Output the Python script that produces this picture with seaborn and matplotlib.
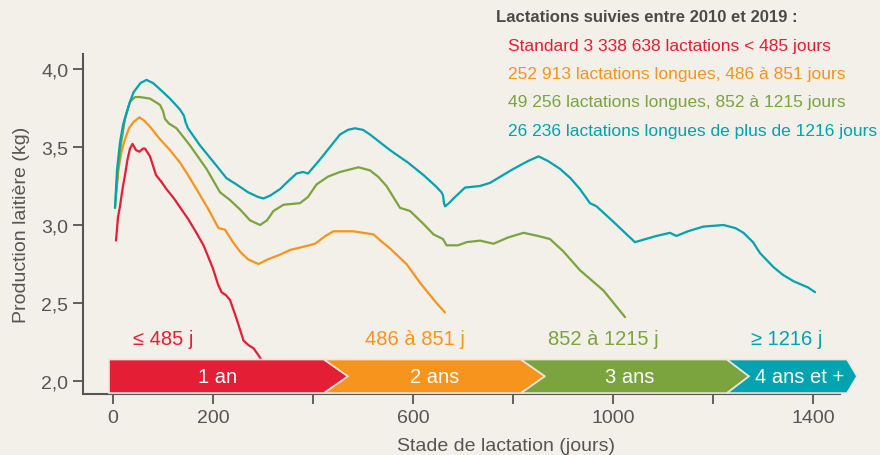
import numpy as np
import pandas as pd
import seaborn as sns
import matplotlib.pyplot as plt
from matplotlib.patches import Polygon

# courbes (jour, kg)
red_days = [6, 10, 14, 19, 24, 29, 34, 39, 46, 53, 60, 64, 70, 74, 80, 86, 96, 107, 122, 137,
            150, 165, 181, 190, 200, 210, 217, 226, 234, 247, 261, 271, 281, 290, 300]
red_vals = [2.90, 3.05, 3.12, 3.23, 3.32, 3.42, 3.49, 3.52, 3.48, 3.47, 3.49, 3.49, 3.46, 3.44,
            3.38, 3.32, 3.28, 3.23, 3.17, 3.10, 3.04, 2.96, 2.87, 2.80, 2.72, 2.62, 2.57, 2.55,
            2.52, 2.40, 2.26, 2.23, 2.21, 2.17, 2.12]

orange_days = [6, 11, 17, 24, 32, 41, 53, 62, 74, 94, 114, 134, 150, 167, 191, 211, 224, 240,
               254, 270, 291, 310, 334, 354, 380, 404, 425, 441, 480, 521, 535, 554, 587, 614,
               647, 664]
orange_vals = [3.20, 3.36, 3.47, 3.55, 3.62, 3.66, 3.69, 3.67, 3.63, 3.55, 3.48, 3.40, 3.32,
               3.23, 3.10, 2.98, 2.97, 2.89, 2.83, 2.78, 2.75, 2.78, 2.81, 2.84, 2.86, 2.88,
               2.93, 2.96, 2.96, 2.94, 2.90, 2.85, 2.75, 2.63, 2.50, 2.44]

green_days = [4, 10, 16, 24, 34, 44, 54, 74, 94, 100, 104, 112, 127, 154, 187, 214, 234, 254,
              274, 294, 308, 321, 341, 374, 390, 407, 430, 454, 491, 514, 530, 547, 574, 594,
              620, 641, 660, 667, 690, 707, 734, 761, 790, 821, 850, 874, 901, 934, 981, 1024]
green_vals = [3.11, 3.35, 3.52, 3.68, 3.79, 3.82, 3.82, 3.81, 3.77, 3.73, 3.68, 3.65, 3.62,
              3.51, 3.36, 3.21, 3.16, 3.10, 3.03, 3.00, 3.03, 3.09, 3.13, 3.14, 3.18, 3.26,
              3.31, 3.34, 3.37, 3.35, 3.31, 3.25, 3.11, 3.09, 3.01, 2.94, 2.91, 2.87, 2.87,
              2.89, 2.90, 2.88, 2.92, 2.95, 2.93, 2.91, 2.83, 2.71, 2.58, 2.41]

teal_days = [4, 8, 14, 20, 27, 34, 41, 55, 67, 80, 94, 114, 134, 142, 145, 150, 174, 207, 227,
             247, 270, 290, 301, 315, 334, 350, 367, 380, 390, 414, 434, 454, 470, 484, 500,
             514, 534, 554, 590, 621, 645, 657, 660, 662, 664, 672, 681, 704, 734, 754, 780,
             801, 830, 851, 870, 894, 915, 934, 954, 967, 1001, 1024, 1044, 1065, 1087, 1114,
             1120, 1127, 1150, 1181, 1221, 1245, 1261, 1280, 1294, 1321, 1340, 1361, 1390, 1404]
teal_vals = [3.11, 3.35, 3.53, 3.64, 3.72, 3.79, 3.85, 3.91, 3.93, 3.91, 3.87, 3.81, 3.74, 3.70,
             3.66, 3.62, 3.51, 3.38, 3.30, 3.26, 3.21, 3.18, 3.17, 3.19, 3.23, 3.28, 3.33,
             3.34, 3.33, 3.42, 3.50, 3.58, 3.61, 3.62, 3.61, 3.58, 3.53, 3.48, 3.40, 3.32,
             3.25, 3.21, 3.19, 3.14, 3.12, 3.14, 3.17, 3.24, 3.25, 3.27, 3.32, 3.36, 3.41,
             3.44, 3.41, 3.36, 3.30, 3.23, 3.14, 3.12, 3.02, 2.95, 2.89, 2.91, 2.93, 2.95,
             2.94, 2.93, 2.96, 2.99, 3.00, 2.98, 2.95, 2.89, 2.82, 2.73, 2.68, 2.64, 2.60, 2.57]

groups = ["standard", "486-851", "852-1215", "1216+"]
colors = ["#e41e34", "#f7941d", "#7ba43f", "#00a3af"]
legend_lines = ["Standard 3 338 638 lactations < 485 jours",
                "252 913 lactations longues, 486 à 851 jours",
                "49 256 lactations longues, 852 à 1215 jours",
                "26 236 lactations longues de plus de 1216 jours"]
range_labels = ["≤ 485 j", "486 à 851 j", "852 à 1215 j", "≥ 1216 j"]
range_label_x = [100, 604, 980, 1348]
phase_labels = ["1 an", "2 ans", "3 ans", "4 ans et +"]
phase_label_x = [210, 644, 1034, 1374]
phase_edges = [-8, 422, 816, 1228, 1468]
phase_tips = [48, 48, 44, 20]

df = pd.concat([
    pd.DataFrame({"jour": d, "kg": v, "groupe": g})
    for d, v, g in zip([red_days, orange_days, green_days, teal_days],
                       [red_vals, orange_vals, green_vals, teal_vals], groups)
])

bg = "#f3efe9"
grey = "#555555"
sns.set_style("ticks")
plt.rcParams["font.family"] = ["Liberation Sans", "DejaVu Sans"]

fig = plt.figure(figsize=(8.8, 4.56), dpi=100, facecolor=bg)
ax = fig.add_axes([83 / 880, 61 / 456, 757 / 880, 340 / 456])
ax.set_facecolor(bg)

sns.lineplot(data=df, x="jour", y="kg", hue="groupe", hue_order=groups,
             palette=colors, linewidth=1.6, legend=False, ax=ax, sort=False, zorder=2)

# bandeau des années
y0, y1 = 1.923, 2.138
ym = (y0 + y1) / 2
for i in range(4):
    s, e, t = phase_edges[i], phase_edges[i + 1], phase_tips[i]
    pts = [(s, y0)]
    if i > 0:
        pts.append((s + phase_tips[i - 1], ym))
    pts += [(s, y1), (e, y1), (e + t, ym), (e, y0)]
    ax.add_patch(Polygon(pts, closed=True, facecolor=colors[i], edgecolor="#ece6dc",
                         linewidth=1.2, zorder=3, clip_on=False))
    ax.text(phase_label_x[i], ym, phase_labels[i], color="white", fontsize=14.5,
            ha="center", va="center", zorder=4)
    ax.text(range_label_x[i], 2.27, range_labels[i], color=colors[i], fontsize=14.5,
            ha="center", va="center", zorder=4)

ax.set_xlim(-60, 1454)
ax.set_ylim(1.917, 4.096)
ax.set_xticks([0, 200, 400, 600, 800, 1000, 1200, 1400])
ax.set_xticklabels(["0", "200", "", "600", "", "1000", "", "1400"])
ax.set_yticks([2.0, 2.5, 3.0, 3.5, 4.0])
ax.set_yticklabels(["2,0", "2,5", "3,0", "3,5", "4,0"])
ax.tick_params(colors=grey, labelsize=14, length=7, width=1.3, labelcolor=grey)
for side in ["left", "bottom"]:
    ax.spines[side].set_color(grey)
    ax.spines[side].set_linewidth(1.5)
sns.despine(ax=ax)
ax.set_xlabel("")
ax.set_ylabel("Production laitière (kg)", fontsize=14, color=grey, labelpad=8)

fig.text(506 / 880, 1 - 447 / 456, "Stade de lactation (jours)", fontsize=14, color=grey,
         ha="center", va="center")

# légende en texte
fig.text(496 / 880, 1 - 18 / 456, "Lactations suivies entre 2010 et 2019 :", fontsize=12,
         fontweight="bold", color="#4a4a4a", va="center")
for i, line in enumerate(legend_lines):
    fig.text(508 / 880, 1 - (46 + 28.5 * i) / 456, line, fontsize=12.5, color=colors[i],
             va="center")

fig.savefig("out.png", dpi=100, facecolor=bg)
